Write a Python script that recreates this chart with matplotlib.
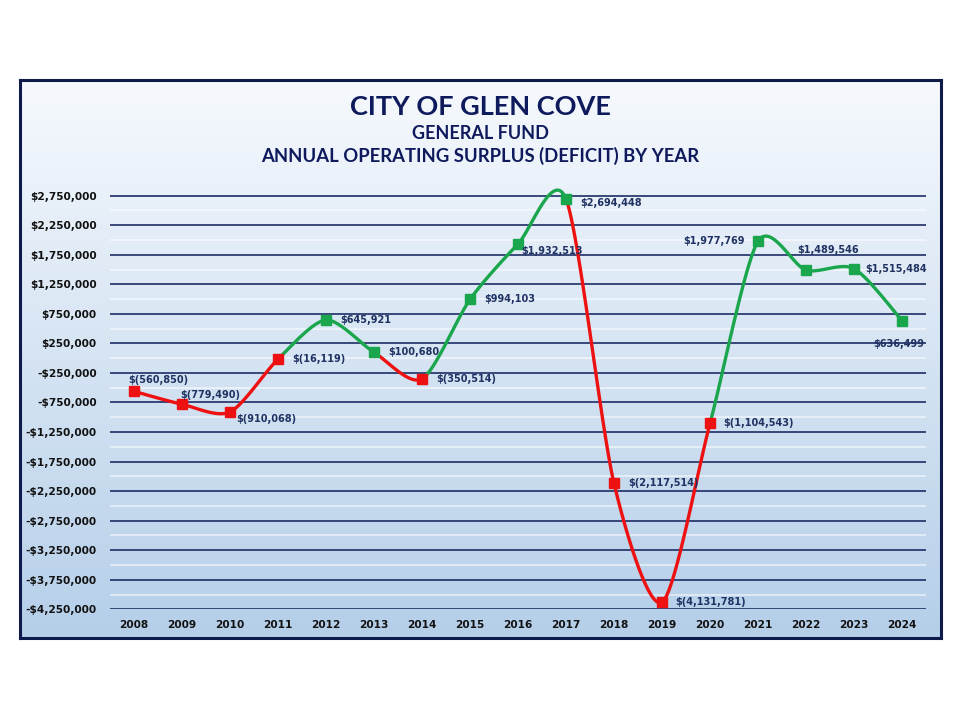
import numpy as np
import matplotlib
matplotlib.use('Agg')
import matplotlib.pyplot as plt
from matplotlib.ticker import FuncFormatter, FixedLocator

# ---------------- data ----------------
years = [str(y) for y in range(2008, 2025)]
values = [-560850, -779490, -910068, -16119, 645921, 100680, -350514,
          994103, 1932513, 2694448, -2117514, -4131781, -1104543,
          1977769, 1489546, 1515484, 636499]
y_ticks = list(range(-4250000, 2750001, 500000))

title1 = "CITY OF GLEN COVE"
title2 = "GENERAL FUND"
title3 = "ANNUAL OPERATING SURPLUS (DEFICIT) BY YEAR"

# label offsets in pixels (dx, dy up) and alignment
label_pos = [(-6, 11, 'left'), (-2, 9, 'left'), (6, -7, 'left'), (14, 0, 'left'),
             (14, 0, 'left'), (14, 0, 'left'), (14, 0, 'left'), (14, 0, 'left'),
             (3, -7, 'left'), (14, -4, 'left'), (14, 0, 'left'), (13, 0, 'left'),
             (13, 0, 'left'), (-13, 0, 'right'), (-9, 20, 'left'), (11, 0, 'left'),
             (-3, -23, 'center')]

RED = '#ee1111'
GREEN = '#1aa64c'
NAVY = '#0e1a5c'
LABEL_C = '#1f3262'

def money(v):
    if v < 0:
        return "$({:,})".format(-v)
    return "${:,}".format(v)

def tick_fmt(v, pos):
    v = int(round(v))
    if v < 0:
        return "-${:,}".format(-v)
    return "${:,}".format(v)

W, H = 960, 720
fig = plt.figure(figsize=(9.6, 7.2), dpi=100)
fig.patch.set_facecolor('white')

# ---------- background box with gradient ----------
bx0, bx1, by0, by1 = 20, 941, 80, 638  # pixels (top-origin y)
bg = fig.add_axes([bx0 / W, 1 - by1 / H, (bx1 - bx0) / W, (by1 - by0) / H])
top_c = np.array([0xf6, 0xf9, 0xfd]) / 255
bot_c = np.array([0xb5, 0xcf, 0xe9]) / 255
t = np.linspace(0, 1, 256)[:, None]
grad = top_c[None, :] * (1 - t) + bot_c[None, :] * t
bg.imshow(grad[:, None, :].repeat(2, axis=1), aspect='auto', extent=[0, 1, 0, 1])
bg.set_xticks([]); bg.set_yticks([])
for s in bg.spines.values():
    s.set_color('#0d1a4a'); s.set_linewidth(2.2)

# ---------- titles ----------
tfam = ['Lato', 'DejaVu Sans']
fig.text(480 / W, 1 - 107 / H, title1, ha='center', va='center', fontsize=19.5,
         fontweight='bold', color=NAVY, family=tfam)
fig.text(480 / W, 1 - 133.5 / H, title2, ha='center', va='center', fontsize=13,
         fontweight='bold', color=NAVY, family=tfam)
fig.text(480 / W, 1 - 156 / H, title3, ha='center', va='center', fontsize=13.3,
         fontweight='bold', color=NAVY, family=tfam)

# ---------- plot axes ----------
ymin, ymax = -4250000, 3000000
px_bot = 609.3
ppm = 413.6 / 7.0  # px per million
px_top = px_bot - (ymax - ymin) / 1e6 * ppm
ax_l, ax_r = 110, 926
ax = fig.add_axes([ax_l / W, 1 - px_bot / H, (ax_r - ax_l) / W, (px_bot - px_top) / H])
ax.patch.set_alpha(0)
n = len(values)
ax.set_xlim(-0.5, n - 0.5)
ax.set_ylim(ymin, ymax)

ax.yaxis.set_major_locator(FixedLocator(y_ticks))
minor = [(a + b) / 2 for a, b in zip(y_ticks[:-1], y_ticks[1:])]
ax.yaxis.set_minor_locator(FixedLocator(minor))
ax.yaxis.set_major_formatter(FuncFormatter(tick_fmt))
ax.grid(True, which='major', axis='y', color='#1e2d66', linewidth=1.2, zorder=1)
ax.grid(True, which='minor', axis='y', color='white', linewidth=1.2, alpha=0.6, zorder=1)
ax.set_xticks(range(n))
ax.set_xticklabels(years)
ax.tick_params(axis='both', which='both', length=0)
ax.tick_params(axis='y', pad=9.5, labelsize=7.6, labelcolor='#111111')
ax.tick_params(axis='x', pad=8, labelsize=7.6, labelcolor='#111111')
for lab in ax.get_xticklabels() + ax.get_yticklabels():
    lab.set_fontweight('bold')
for s in ax.spines.values():
    s.set_visible(False)
ax.set_axisbelow(True)

# ---------- smoothed line (Catmull-Rom in screen-like space) ----------
xs = np.arange(n, dtype=float)
ys = np.array(values, dtype=float) / 1e6 * ppm / 48.0
P = np.column_stack([xs, ys])
colors = [RED if v < 0 else GREEN for v in values]
tt = np.linspace(0, 1, 40)[:, None]
k = 0.8 / 6.0
for i in range(n - 1):
    p0 = P[i - 1] if i > 0 else P[i]
    p1, p2 = P[i], P[i + 1]
    p3 = P[i + 2] if i + 2 < n else P[i + 1]
    c1 = p1 + (p2 - p0) * k
    c2 = p2 - (p3 - p1) * k
    B = ((1 - tt) ** 3) * p1 + 3 * ((1 - tt) ** 2) * tt * c1 + 3 * (1 - tt) * tt ** 2 * c2 + tt ** 3 * p2
    bx = B[:, 0]
    by = B[:, 1] * 48.0 / ppm * 1e6
    ax.plot(bx, by, color=colors[i + 1], linewidth=2.4, solid_capstyle='round', zorder=3,
            clip_on=False)

for i in range(n):
    ax.plot(xs[i], values[i], marker='s', markersize=6.5, color=colors[i], zorder=4,
            linestyle='none', clip_on=False)

# ---------- data labels ----------
for i, v in enumerate(values):
    dx, dy, ha = label_pos[i]
    ax.annotate(money(v), (xs[i], v), xytext=(dx * 0.72, dy * 0.72),
                textcoords='offset points', ha=ha, va='center', fontsize=7.0,
                fontweight='bold', color=LABEL_C, zorder=5)

fig.savefig('out.png', dpi=100, facecolor='white')
